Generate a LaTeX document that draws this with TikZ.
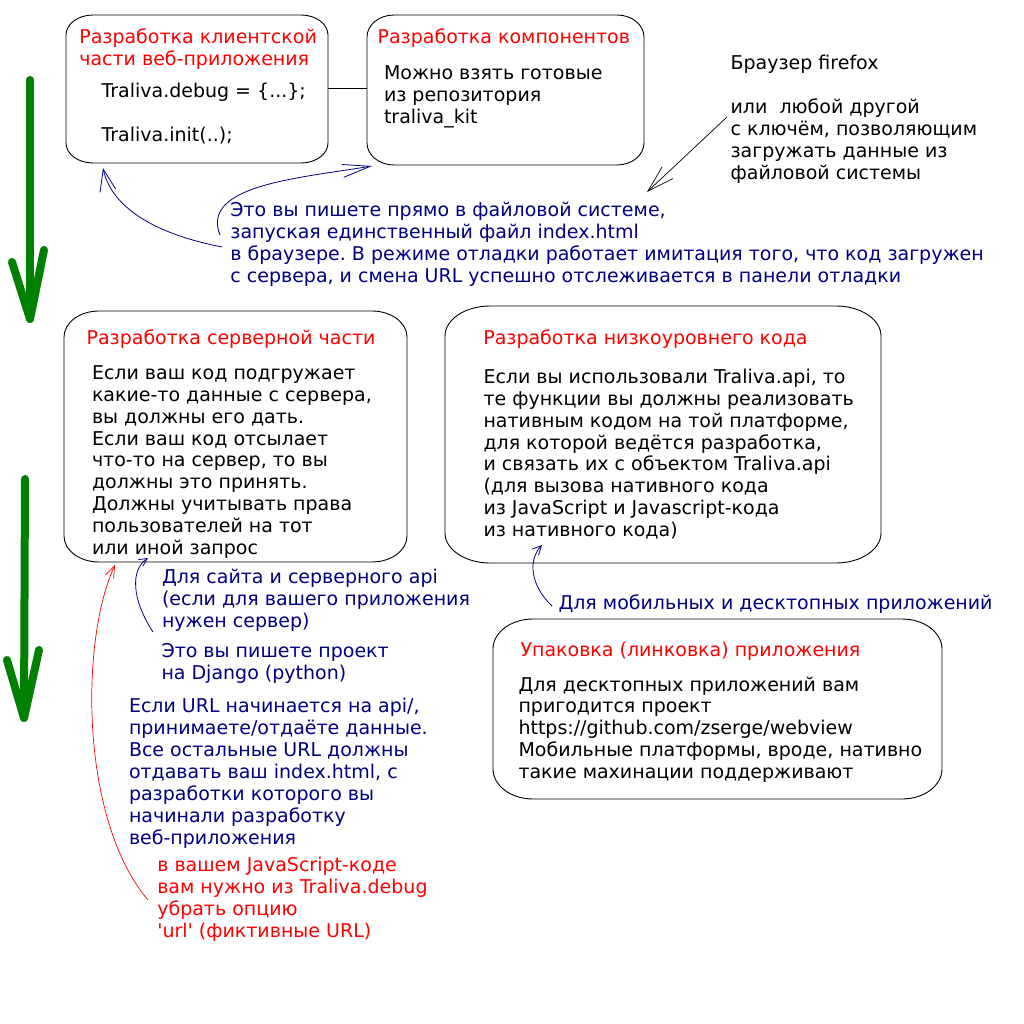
\documentclass[tikz,border=0pt]{standalone}
\usepackage{fontspec}
\setmainfont{DejaVu Sans}
\usetikzlibrary{arrows.meta,fit}
\definecolor{navy}{RGB}{0,0,128}
\definecolor{dgreen}{RGB}{0,128,0}
\definecolor{tred}{RGB}{255,0,0}
\newcommand\dfs{\fontsize{19}{21.9}\selectfont\frenchspacing}
% elliptical-corner box: name, x1, y1, x2, y2, rx, ry
\newcommand\ebox[7]{%
  \coordinate (#1-nw) at (#2,#3);
  \coordinate (#1-se) at (#4,#5);
  \node[fit=(#1-nw)(#1-se), inner sep=0pt, outer sep=0pt] (#1) {};
  \draw[boxline] ({#2+#6},#3) -- ({#4-#6},#3)
    .. controls ({#4-#6+0.552*#6},#3) and (#4,{#3+#7-0.552*#7}) .. (#4,{#3+#7})
    -- (#4,{#5-#7})
    .. controls (#4,{#5-#7+0.552*#7}) and ({#4-#6+0.552*#6},#5) .. ({#4-#6},#5)
    -- ({#2+#6},#5)
    .. controls ({#2+#6-0.552*#6},#5) and (#2,{#5-#7+0.552*#7}) .. (#2,{#5-#7})
    -- (#2,{#3+#7})
    .. controls (#2,{#3+#7-0.552*#7}) and ({#2+#6-0.552*#6},#3) .. cycle;
}
\begin{document}
\begin{tikzpicture}[x=1pt,y=-1pt,
  boxline/.style={draw=black, line width=0.9pt},
  txt/.style={anchor=north west, yshift=15.33pt, inner sep=0pt, outer sep=0pt, align=left, font=\dfs},
  ttl/.style={txt, text=tred},
  body/.style={txt, text=black},
  note/.style={txt, text=navy},
  rnote/.style={txt, text=tred},
  navyline/.style={draw=navy, line width=0.8pt},
  redline/.style={draw=tred, line width=0.7pt},
  greenarrow/.style={draw=dgreen, line width=8pt, line cap=round, line join=round}]
\useasboundingbox[fill=white] (0,0) rectangle (1024,1024);

% boxes
\ebox{A}{66}{15}{328}{163}{27}{20}
\ebox{B}{367}{15}{644}{165}{27}{22}
\ebox{C}{64}{311}{407}{562}{35}{26}
\ebox{D}{445}{306}{881}{563}{45}{30}
\ebox{E}{493}{619}{942}{799}{40}{30}

% box texts
\node[ttl]  (Atitle) at (79.3,44) {\strut Разработка клиентской\\части веб-приложения};
\node[body] (Abody)  at (101.5,98) {\strut Traliva.debug = \{...\};\\ \strut\\Traliva.init(..);};
\node[ttl]  (Btitle) at (377.6,44) {\strut Разработка компонентов};
\node[body] (Bbody)  at (384,80) {\strut Можно взять готовые\\из репозитория\\traliva\_kit};
\node[ttl]  (Ctitle) at (86.6,344) {\strut Разработка серверной части};
\node[body] (Cbody)  at (92,379.3) {\strut Если ваш код подгружает\\какие-то данные с сервера,\\вы должны его дать.\\Если ваш код отсылает\\что-то на сервер, то вы\\должны это принять.\\Должны учитывать права\\пользователей на тот\\или иной запрос};
\node[ttl]  (Dtitle) at (483.3,344) {\strut Разработка низкоуровнего кода};
\node[body] (Dbody)  at (483.5,383.3) {\strut Если вы использовали Traliva.api, то\\те функции вы должны реализовать\\нативным кодом на той платформе,\\для которой ведётся разработка,\\и связать их с объектом Traliva.api\\(для вызова нативного кода\\из JavaScript и Javascript-кода\\из нативного кода)};
\node[ttl]  (Etitle) at (520.5,656) {\strut Упаковка (линковка) приложения};
\node[body] (Ebody)  at (518.5,691) {\strut Для десктопных приложений вам\\пригодится проект\\https://github.com/zserge/webview\\Мобильные платформы, вроде, нативно\\такие махинации поддерживают};

% free texts
\node[body] (browser) at (730.6,70) {\strut Браузер firefox\\ \strut\\или\ \ любой другой\\с ключём, позволяющим\\загружать данные из\\файловой системы};
\node[note] (n1) at (230.4,216.3) {\strut Это вы пишете прямо в файловой системе,\\запуская единственный файл index.html\\в браузере. В режиме отладки работает имитация того, что код загружен\\с сервера, и смена URL успешно отслеживается в панели отладки};
\node[note] (n2) at (162,583.3) {\strut Для сайта и серверного api\\(если для вашего приложения\\нужен сервер)};
\node[note] (n3) at (161.5,657.3) {\strut Это вы пишете проект\\на Django (python)};
\node[note] (n4) at (129,712.7) {\strut Если URL начинается на api/,\\принимаете/отдаёте данные.\\Все остальные URL должны\\отдавать ваш index.html, с\\разработки которого вы\\начинали разработку\\веб-приложения};
\node[rnote] (n5) at (157.3,871.7) {\strut в вашем JavaScript-коде\\вам нужно из Traliva.debug\\убрать опцию\\\textquotesingle url\textquotesingle\ (фиктивные URL)};
\node[note] (n6) at (558.5,609) {\strut Для мобильных и десктопных приложений};

% connector between A and B
\draw[line width=0.9pt] (A.east |- 0,88) -- (B.west |- 0,88);

% browser arrow
\coordinate (brS) at (727,117);
\coordinate (brE) at (647,192);
\draw[line width=0.7pt, -{Straight Barb[length=27pt,width=16pt]}] (brS) -- (brE);

% blue curves
\coordinate (c1s) at (222,247);
\coordinate (c1e) at (103,168);
\draw[navyline, -{Straight Barb[length=22pt,width=16pt]}] (c1s) .. controls (160,235) and (112,210) .. (c1e);
\coordinate (c2s) at (220,235);
\coordinate (c2e) at (372,166);
\draw[navyline, -{Straight Barb[length=28pt,width=13pt]}] (c2s) .. controls (200,185) and (300,178) .. (c2e);
\coordinate (c3s) at (153,632);
\coordinate (c3e) at (148,558);
\draw[navyline, -{Straight Barb[length=8pt,width=8pt]}] (c3s) .. controls (132,600) and (130,570) .. (c3e);
\coordinate (c4s) at (552,606);
\coordinate (c4e) at (542,545);
\draw[navyline, -{Straight Barb[length=9pt,width=9pt]}] (c4s) .. controls (530,585) and (528,560) .. (c4e);
% red curve
\coordinate (c5s) at (148,900);
\coordinate (c5e) at (115,565);
\draw[redline, -{Straight Barb[length=12pt,width=9pt]}] (c5s) .. controls (80,820) and (80,640) .. (c5e);

% green arrows
\coordinate (g1t) at (30,80);
\coordinate (g1p) at (30,319);
\coordinate (g1l) at (12,262);
\coordinate (g1r) at (44,250);
\draw[greenarrow] (g1t) -- (g1p);
\draw[greenarrow] (g1l) -- (g1p) -- (g1r);
\coordinate (g2t) at (25,479);
\coordinate (g2p) at (24,718);
\coordinate (g2l) at (7,660);
\coordinate (g2r) at (39,650);
\draw[greenarrow] (g2t) -- (g2p);
\draw[greenarrow] (g2l) -- (g2p) -- (g2r);
\end{tikzpicture}
\end{document}
